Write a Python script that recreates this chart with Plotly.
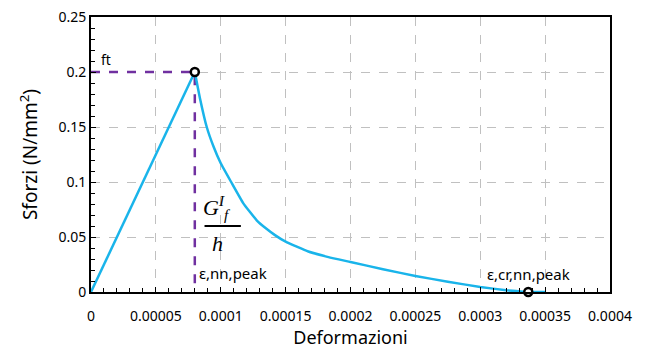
import plotly.graph_objects as go

# data
rise_strain = [0, 0.00008]
rise_stress = [0, 0.2]
decay_strain = [0.00008, 0.000084, 0.0000892, 0.0000945, 0.0001, 0.000108, 0.0001174,
                0.0001277, 0.000135, 0.0001418, 0.00015, 0.0001675, 0.000183, 0.0002,
                0.000225, 0.00025, 0.000275, 0.0003, 0.00032, 0.00033, 0.000337, 0.00035]
decay_stress = [0.2, 0.176, 0.15, 0.132, 0.117, 0.1, 0.0806,
                0.0652, 0.0577, 0.0517, 0.0457, 0.0368, 0.0317, 0.0273,
                0.0207, 0.0146, 0.0093, 0.0046, 0.0016, 0.0006, 0, 0]
peak_points_strain = [0.00008, 0.000337]
peak_points_stress = [0.2, 0]
ft_line_strain = [0, 0.00008, 0.00008]
ft_line_stress = [0.2, 0.2, 0]

x_tickvals = [0, 0.00005, 0.0001, 0.00015, 0.0002, 0.00025, 0.0003, 0.00035, 0.0004]
x_ticktext = ["0", "0.00005", "0.0001", "0.00015", "0.0002", "0.00025", "0.0003", "0.00035", "0.0004"]
y_tickvals = [0, 0.05, 0.1, 0.15, 0.2, 0.25]
y_ticktext = ["0", "0.05", "0.1", "0.15", "0.2", "0.25"]

BLUE = "#19B4EA"
PURPLE = "#7030A0"
FONT = "Noto Sans"

fig = go.Figure()
fig.add_trace(go.Scatter(x=ft_line_strain, y=ft_line_stress, mode="lines",
                         line=dict(color=PURPLE, width=2.5, dash="dash"), showlegend=False))
fig.add_trace(go.Scatter(x=rise_strain, y=rise_stress, mode="lines",
                         line=dict(color=BLUE, width=2.5), showlegend=False))
fig.add_trace(go.Scatter(x=decay_strain, y=decay_stress, mode="lines",
                         line=dict(color=BLUE, width=2.5, shape="spline", smoothing=0.4),
                         showlegend=False))
fig.add_trace(go.Scatter(x=peak_points_strain, y=peak_points_stress, mode="markers",
                         marker=dict(symbol="circle", size=8, color="white",
                                     line=dict(color="black", width=2.5)),
                         showlegend=False, cliponaxis=False))

fig.add_annotation(x=0.0000062, y=0.2, xref="x", yref="y", text="ft", showarrow=False,
                   xanchor="left", yanchor="bottom", yshift=1,
                   font=dict(family=FONT, size=14, color="black"))
fig.add_annotation(x=0.000085, y=0.077, xref="x", yref="y",
                   text="<i>G</i><sup><i>I</i></sup><sub><i>f</i></sub>", showarrow=False,
                   xanchor="left", yanchor="middle",
                   font=dict(family="Liberation Serif", size=22, color="black"))
fig.add_annotation(x=0.0000975, y=0.044, xref="x", yref="y",
                   text="<i>h</i>", showarrow=False, xanchor="center", yanchor="middle",
                   font=dict(family="Liberation Serif", size=22, color="black"))
fig.add_shape(type="line", xref="x", yref="y", x0=0.0000875, x1=0.0001155,
              y0=0.06, y1=0.06, line=dict(color="black", width=2))
fig.add_annotation(x=0.0000815, y=0.0175, xref="x", yref="y", text="ε,nn,peak",
                   showarrow=False, xanchor="left", yanchor="middle",
                   font=dict(family=FONT, size=15, color="black"))
fig.add_annotation(x=0.000304, y=0.0163, xref="x", yref="y", text="ε,cr,nn,peak",
                   showarrow=False, xanchor="left", yanchor="middle",
                   font=dict(family=FONT, size=15, color="black"))

fig.update_layout(
    width=648, height=353,
    margin=dict(l=83, r=46, t=9, b=69, autoexpand=False),
    plot_bgcolor="white", paper_bgcolor="white",
    font=dict(family=FONT, size=14, color="black"),
)
fig.update_xaxes(
    range=[0, 0.0004], tickvals=x_tickvals, ticktext=x_ticktext, automargin=False,
    showgrid=True, gridcolor="#C0C0C0", griddash="dash", gridwidth=1,
    showline=True, linecolor="black", linewidth=2, mirror=True,
    ticks="inside", ticklen=5, tickcolor="black",
    minor=dict(ticks="inside", dtick=0.00001, ticklen=4, tickcolor="black", showgrid=False),
    zeroline=False, ticklabeloverflow="allow", ticklabelstandoff=10,
    title=dict(text="Deformazioni", font=dict(size=18), standoff=8),
    tickfont=dict(size=14),
)
fig.update_yaxes(
    range=[0, 0.25], tickvals=y_tickvals, ticktext=y_ticktext, automargin=False,
    showgrid=True, gridcolor="#C0C0C0", griddash="dash", gridwidth=1,
    showline=True, linecolor="black", linewidth=2, mirror=True,
    ticks="inside", ticklen=5, tickcolor="black",
    minor=dict(ticks="inside", dtick=0.01, ticklen=4, tickcolor="black", showgrid=False),
    zeroline=False, ticklabeloverflow="allow",
    title=dict(text="Sforzi (N/mm<sup>2</sup>)", font=dict(size=19), standoff=16),
    tickfont=dict(size=14),
)

fig.write_html("out.html")
